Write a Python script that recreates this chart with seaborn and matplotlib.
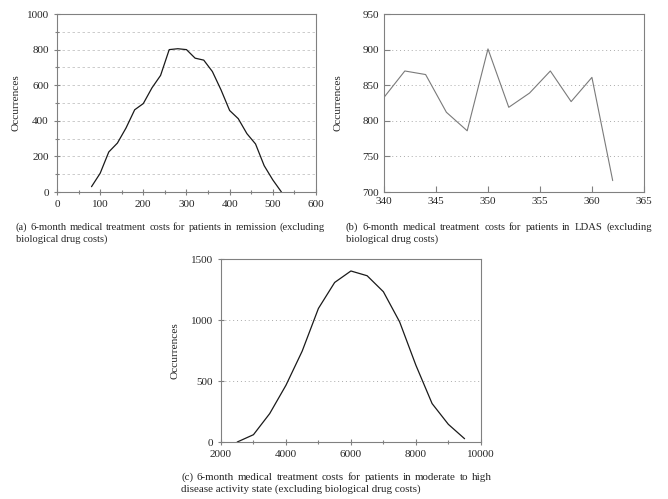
import matplotlib
matplotlib.use('Agg')
import pandas as pd
import matplotlib.pyplot as plt
import seaborn as sns
from matplotlib.ticker import MultipleLocator

# (a) remission
cost_a = [80, 100, 120, 140, 160, 180, 200, 220, 240, 260, 280, 300,
          320, 340, 360, 380, 400, 420, 440, 460, 480, 500, 520]
occ_a = [30, 105, 225, 275, 360, 462, 497, 585, 655, 800, 805, 800,
         752, 741, 677, 574, 458, 412, 328, 270, 148, 68, 0]

# (b) LDAS
cost_b = [340, 342, 344, 346, 348, 350, 352, 354, 356, 358, 360, 362]
occ_b = [833, 870, 865, 812, 786, 901, 819, 839, 870, 827, 861, 716]

# (c) moderate to high
cost_c = [2500, 3000, 3500, 4000, 4500, 5000, 5500, 6000, 6500, 7000,
          7500, 8000, 8500, 9000, 9500]
occ_c = [0, 60, 233, 465, 745, 1095, 1308, 1402, 1363, 1232, 985, 630,
         315, 145, 27]

captions = [
    ("(a)  6-month medical treatment costs for patients in remission (excluding",
     "biological drug costs)"),
    ("(b)  6-month medical treatment costs for patients in LDAS (excluding",
     "biological drug costs)"),
    ("(c)  6-month medical treatment costs for patients in moderate to high",
     "disease activity state (excluding biological drug costs)"),
]

sns.set_style('white')
plt.rcParams['font.family'] = ['Liberation Serif', 'DejaVu Serif']
plt.rcParams['font.size'] = 7.5

fig = plt.figure(figsize=(6.68, 4.99), dpi=100)
ax_a = fig.add_axes([0.0853, 0.6152, 0.3877, 0.3567])
ax_b = fig.add_axes([0.5749, 0.6152, 0.389, 0.3567])
ax_c = fig.add_axes([0.3308, 0.1142, 0.389, 0.3667])

df_a = pd.DataFrame({'cost': cost_a, 'occ': occ_a})
df_b = pd.DataFrame({'cost': cost_b, 'occ': occ_b})
df_c = pd.DataFrame({'cost': cost_c, 'occ': occ_c})

sns.lineplot(data=df_a, x='cost', y='occ', ax=ax_a, color='#1a1a1a', linewidth=0.9)
sns.lineplot(data=df_b, x='cost', y='occ', ax=ax_b, color='#7a7a7a', linewidth=0.8)
sns.lineplot(data=df_c, x='cost', y='occ', ax=ax_c, color='#1a1a1a', linewidth=0.9)

ax_a.set_xlim(0, 600)
ax_a.set_ylim(0, 1000)
ax_a.xaxis.set_major_locator(MultipleLocator(100))
ax_a.xaxis.set_minor_locator(MultipleLocator(50))
ax_a.yaxis.set_major_locator(MultipleLocator(200))
ax_a.yaxis.set_minor_locator(MultipleLocator(100))
for v in range(100, 1000, 100):
    ax_a.axhline(v, color='#c4c4c4', linestyle=(0, (3, 3)), linewidth=0.6, zorder=0)

ax_b.set_xlim(340, 365)
ax_b.set_ylim(700, 950)
ax_b.xaxis.set_major_locator(MultipleLocator(5))
ax_b.yaxis.set_major_locator(MultipleLocator(50))
for v in [750, 800, 850, 900]:
    ax_b.axhline(v, color='#aaaaaa', linestyle=(0, (1, 3)), linewidth=0.7, zorder=0)

ax_c.set_xlim(2000, 10000)
ax_c.set_ylim(0, 1500)
ax_c.xaxis.set_major_locator(MultipleLocator(2000))
ax_c.xaxis.set_minor_locator(MultipleLocator(1000))
ax_c.yaxis.set_major_locator(MultipleLocator(500))
for v in [500, 1000]:
    ax_c.axhline(v, color='#aaaaaa', linestyle=(0, (1, 3)), linewidth=0.7, zorder=0)

for ax, lx in [(ax_a, -0.14), (ax_b, -0.158), (ax_c, -0.158)]:
    ax.set_xlabel('')
    ax.set_ylabel('Occurrences', fontsize=8.2)
    ax.yaxis.set_label_coords(lx, 0.5)
    for s in ax.spines.values():
        s.set_color('#808080')
        s.set_linewidth(0.8)
    ax.tick_params(which='both', direction='inout', color='#808080', width=0.8,
                   labelsize=8, bottom=True, left=True)
    ax.tick_params(which='major', length=5)
    ax.tick_params(which='minor', length=3)

ax_b.tick_params(which='both', direction='in', length=4)

# captions: first line justified between x0 and x1 (pixels)
renderer = fig.canvas.get_renderer()
W, H = fig.bbox.width, fig.bbox.height


def caption(lines, x0, x1, y1, y2, size):
    words = lines[0].split()
    objs = [fig.text(0, y1 / H, w, fontsize=size, va='center') for w in words]
    widths = [o.get_window_extent(renderer).width for o in objs]
    gap = (x1 - x0 - sum(widths)) / (len(words) - 1)
    pos = x0
    for o, w in zip(objs, widths):
        o.set_x(pos / W)
        pos += w + gap
    fig.text(x0 / W, y2 / H, lines[1], fontsize=size, va='center')


caption(captions[0], 16, 325, H - 227, H - 239, 7.6)
caption(captions[1], 346, 652, H - 227, H - 239, 7.7)
caption(captions[2], 181, 492, H - 477, H - 489, 7.9)

plt.savefig('out.png', dpi=100)
